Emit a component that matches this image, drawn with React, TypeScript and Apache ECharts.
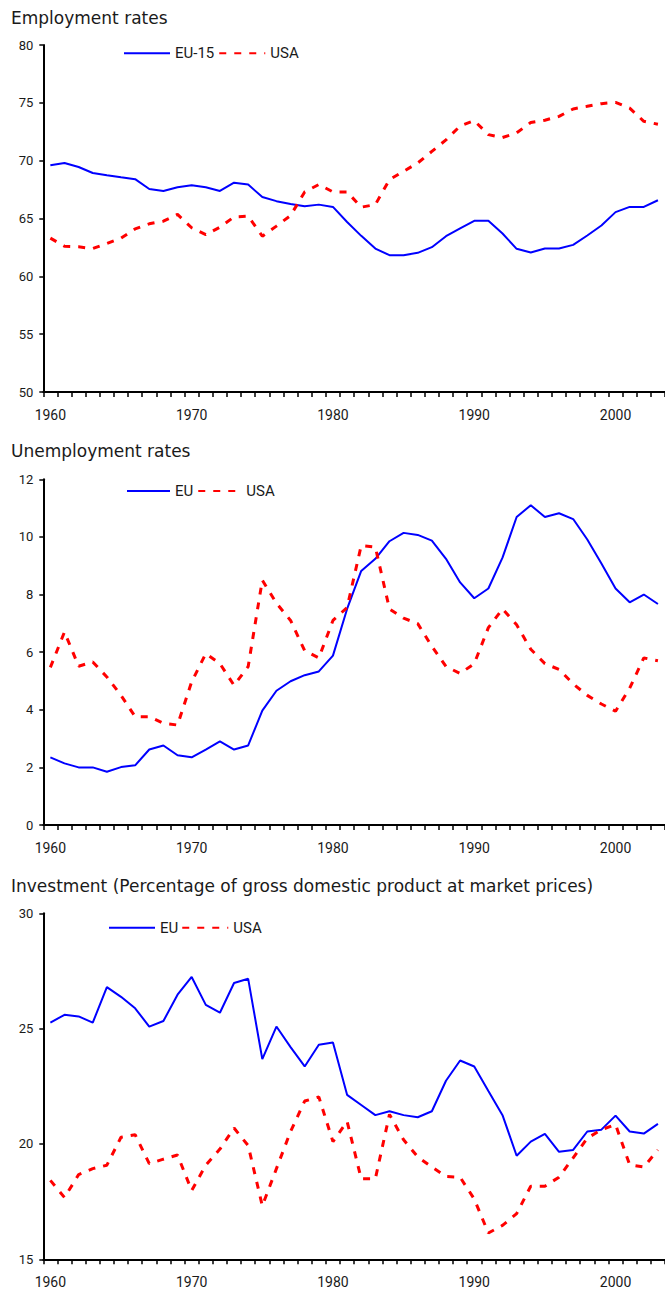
import React, { useEffect, useRef } from "react";
import * as echarts from "echarts";

const years: string[] = [];
for (let y = 1960; y <= 2003; y++) years.push(String(y));

const empEU15 = [69.6, 69.8, 69.45, 68.93, 68.73, 68.56, 68.4, 67.55, 67.38, 67.7, 67.87, 67.7, 67.38, 68.1, 67.93, 66.86, 66.5, 66.25, 66.05, 66.2, 66.0, 64.7, 63.5, 62.4, 61.83, 61.83, 62.03, 62.52, 63.47, 64.14, 64.8, 64.8, 63.7, 62.38, 62.06, 62.4, 62.4, 62.72, 63.53, 64.4, 65.55, 66.0, 66.0, 66.58];
const empUSA = [63.3, 62.6, 62.55, 62.4, 62.84, 63.3, 64.1, 64.54, 64.77, 65.35, 64.2, 63.6, 64.25, 65.14, 65.2, 63.47, 64.34, 65.26, 67.3, 67.94, 67.3, 67.3, 65.98, 66.2, 68.36, 69.08, 69.8, 70.8, 71.8, 73.0, 73.46, 72.25, 72.0, 72.4, 73.3, 73.5, 73.83, 74.47, 74.7, 74.93, 75.04, 74.55, 73.4, 73.15];

const unEU = [2.35, 2.14, 2.0, 2.0, 1.85, 2.01, 2.07, 2.62, 2.76, 2.42, 2.35, 2.62, 2.9, 2.62, 2.76, 3.97, 4.66, 4.99, 5.2, 5.33, 5.88, 7.5, 8.82, 9.24, 9.85, 10.14, 10.07, 9.87, 9.24, 8.42, 7.87, 8.21, 9.28, 10.69, 11.1, 10.69, 10.82, 10.62, 9.91, 9.08, 8.21, 7.73, 8.0, 7.67];
const unUSA = [5.47, 6.7, 5.51, 5.66, 5.14, 4.5, 3.76, 3.76, 3.53, 3.47, 4.97, 5.95, 5.6, 4.85, 5.5, 8.5, 7.7, 7.1, 6.05, 5.8, 7.1, 7.55, 9.7, 9.65, 7.5, 7.18, 6.99, 6.2, 5.5, 5.26, 5.6, 6.85, 7.5, 6.95, 6.1, 5.6, 5.4, 4.9, 4.5, 4.2, 3.95, 4.75, 5.8, 5.7];

const invEU = [25.26, 25.6, 25.53, 25.26, 26.8, 26.38, 25.88, 25.09, 25.33, 26.47, 27.24, 26.03, 25.69, 26.98, 27.16, 23.68, 25.09, 24.2, 23.36, 24.3, 24.4, 22.13, 21.69, 21.25, 21.42, 21.25, 21.16, 21.42, 22.74, 23.62, 23.36, 22.3, 21.25, 19.49, 20.1, 20.44, 19.66, 19.74, 20.54, 20.62, 21.23, 20.54, 20.45, 20.87];
const invUSA = [18.42, 17.68, 18.67, 18.93, 19.08, 20.29, 20.4, 19.15, 19.34, 19.52, 17.98, 19.08, 19.78, 20.69, 19.93, 17.32, 18.93, 20.54, 21.86, 22.04, 20.1, 20.98, 18.49, 18.49, 21.28, 20.18, 19.44, 19.0, 18.59, 18.56, 17.61, 16.14, 16.47, 16.98, 18.17, 18.17, 18.56, 19.4, 20.25, 20.62, 20.84, 19.1, 19.0, 19.74];

const titles = [
  "Employment rates",
  "Unemployment rates",
  "Investment (Percentage of gross domestic product at market prices)",
];
const yRanges = [
  { min: 50, max: 80, interval: 5 },
  { min: 0, max: 12, interval: 2 },
  { min: 15, max: 30, interval: 5 },
];
const euNames = ["EU-15", "EU", "EU"];

const BLUE = "#0000ff";
const RED = "#ff0000";
const TXT = "#1a1a1a";

export default function App() {
  const ref = useRef<HTMLDivElement>(null);
  useEffect(() => {
    if (!ref.current) return;
    const chart = echarts.init(ref.current, null, { renderer: "svg" });

    const gridTops = [45, 479.3, 913.3];
    const gridHeights = [347, 345.7, 346];
    const titleTops = [9, 442.3, 877.5];
    const legendCfg = [
      { left: 123, y: 53.3, w: 46, gap: 4 },
      { left: 126, y: 491, w: 43, gap: 4 },
      { left: 108, y: 927.7, w: 46, gap: 3 },
    ];
    const euData = [empEU15, unEU, invEU];
    const usData = [empUSA, unUSA, invUSA];

    const grid = gridTops.map((t, i) => ({
      left: 43.3,
      top: t,
      width: 627,
      height: gridHeights[i],
      containLabel: false,
    }));

    const xAxis = gridTops.map((_, i) => ({
      type: "category",
      gridIndex: i,
      data: years,
      boundaryGap: true,
      axisLine: { show: true, lineStyle: { color: "#000", width: 2 } },
      axisTick: { show: true, interval: 0, length: 5, lineStyle: { color: "#000", width: 1.5 } },
      axisLabel: {
        interval: 9,
        margin: 16,
        color: TXT,
        fontFamily: "Roboto",
        fontSize: 14,
      },
      splitLine: { show: false },
    }));

    const yAxis = yRanges.map((r, i) => ({
      type: "value",
      gridIndex: i,
      min: r.min,
      max: r.max,
      interval: r.interval,
      axisLine: { show: true, lineStyle: { color: "#000", width: 2 } },
      axisTick: { show: true, length: 4, lineStyle: { color: "#000", width: 1.5 } },
      axisLabel: { margin: 10, color: TXT, fontFamily: "Roboto", fontSize: 13 },
      splitLine: { show: false },
    }));

    const title = titles.map((t, i) => ({
      text: t,
      left: 11,
      top: titleTops[i],
      padding: 0,
      textStyle: {
        fontFamily: "DejaVu Sans",
        fontSize: 17,
        lineHeight: 17,
        fontWeight: "normal",
        color: TXT,
      },
    }));

    const legend = legendCfg.map((l, i) => ({
      left: l.left,
      top: l.y - 7.5,
      padding: 0,
      itemWidth: l.w,
      itemHeight: 14,
      itemGap: l.gap,
      data: [euNames[i], "USA"],
      itemStyle: { opacity: 0 },
      textStyle: { fontFamily: "Roboto", fontSize: 15, lineHeight: 15, color: TXT },
      selectedMode: false,
    }));

    const series: any[] = [];
    for (let i = 0; i < 3; i++) {
      series.push({
        name: euNames[i],
        type: "line",
        xAxisIndex: i,
        yAxisIndex: i,
        data: euData[i],
        symbol: "none",
        lineStyle: { color: BLUE, width: 2, type: "solid" },
        itemStyle: { color: BLUE },
      });
      series.push({
        name: "USA",
        type: "line",
        xAxisIndex: i,
        yAxisIndex: i,
        data: usData[i],
        symbol: "none",
        lineStyle: { color: RED, width: 3, type: [7, 8] },
        itemStyle: { color: RED },
      });
    }

    chart.setOption({
      animation: false,
      backgroundColor: "#ffffff",
      title,
      legend,
      grid,
      xAxis,
      yAxis,
      series,
    });
    return () => chart.dispose();
  }, []);

  return (
    <div
      ref={ref}
      style={{ position: "absolute", left: 0, top: 0, width: 665, height: 1293 }}
    />
  );
}
